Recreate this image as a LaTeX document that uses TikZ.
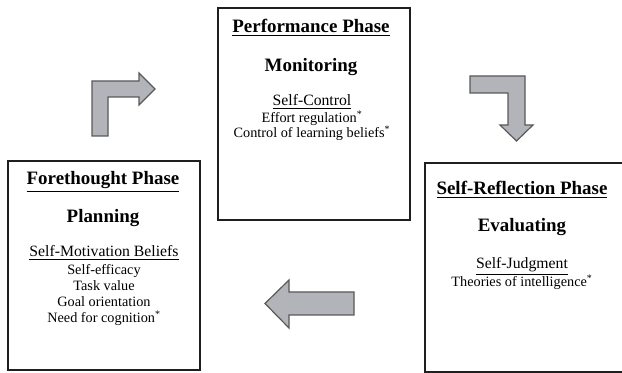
\documentclass[tikz,border=0pt]{standalone}
\usepackage{fontspec}
\setmainfont{Liberation Serif}
\usepackage{xcolor}
\usetikzlibrary{
		calc,
		positioning
	}
\definecolor{arrowgray}{RGB}{178,180,185}
\tikzset{
		>=stealth,
		phasebox/.style={draw=black!88,line width=2.2pt},
		blockarrow/.style={fill=arrowgray,draw=black!65,line width=0.9pt,line join=miter},
		phasetitle/.style={anchor=base,inner sep=0pt,font=\fontsize{14.2}{17}\selectfont\bfseries},
		subhead/.style={anchor=base,inner sep=0pt,font=\fontsize{11.8}{14}\selectfont},
		item/.style={anchor=base,inner sep=0pt,font=\fontsize{10.7}{13}\selectfont}
	}
\newcommand{\starmark}{\textsuperscript{*}}
\begin{document}
\begin{tikzpicture}[x=0.75pt,y=-0.75pt]
          \useasboundingbox (0,0) rectangle (622,373);

          % phase boxes
          \coordinate (F1) at (8,161);
          \coordinate (F2) at (200,370);
          \coordinate (P1) at (218,8);
          \coordinate (P2) at (410,220);
          \coordinate (R1) at (425,163);
          \coordinate (R2) at (624,372);

          \draw[phasebox] (F1) rectangle (F2);
          \draw[phasebox] (P1) rectangle (P2);
          \draw[phasebox] (R1) rectangle (R2);

          % forethought
          \node[phasetitle] (foretitle) at (103,185) {\underline{Forethought Phase}};
          \node[phasetitle] (plan) at (103,223) {Planning};
          \node[subhead] (motiv) at (104,257) {\underline{Self-Motivation Beliefs}};
          \node[item] (effic) at (104,275) {Self-efficacy};
          \node[item] (task) at (104,291) {Task value};
          \node[item] (goal) at (104,307) {Goal orientation};
          \node[item] (need) at (104,323) {Need for cognition\starmark};

          % performance
          \node[phasetitle] (perftitle) at (311,33) {\underline{Performance Phase}};
          \node[phasetitle] (monit) at (311,72) {Monitoring};
          \node[subhead] (control) at (312,106) {\underline{Self-Control}};
          \node[item] (effort) at (312,123) {Effort regulation\starmark};
          \node[item] (learn) at (312,138) {Control of learning beliefs\starmark};

          % self-reflection
          \node[phasetitle] (refltitle) at (522,195) {\underline{Self-Reflection Phase}};
          \node[phasetitle] (eval) at (522,232) {Evaluating};
          \node[subhead] (judge) at (522,269) {\underline{Self-Judgment}};
          \node[item] (theory) at (522,287) {Theories of intelligence\starmark};

          % block arrows
          \draw[blockarrow] (92,136) -- (92,81) -- (139,81) -- (139,73) -- (155,89)
                -- (139,105) -- (139,97) -- (108,97) -- (108,136) -- cycle;
          \draw[blockarrow] (470,76) -- (525,76) -- (525,125) -- (533,125) -- (516.5,141)
                -- (500,125) -- (508,125) -- (508,93) -- (470,93) -- cycle;
          \draw[blockarrow] (354,292) -- (289,292) -- (289,280) -- (265,303.5)
                -- (289,328) -- (289,315) -- (354,315) -- cycle;

          \end{tikzpicture}
\end{document}
